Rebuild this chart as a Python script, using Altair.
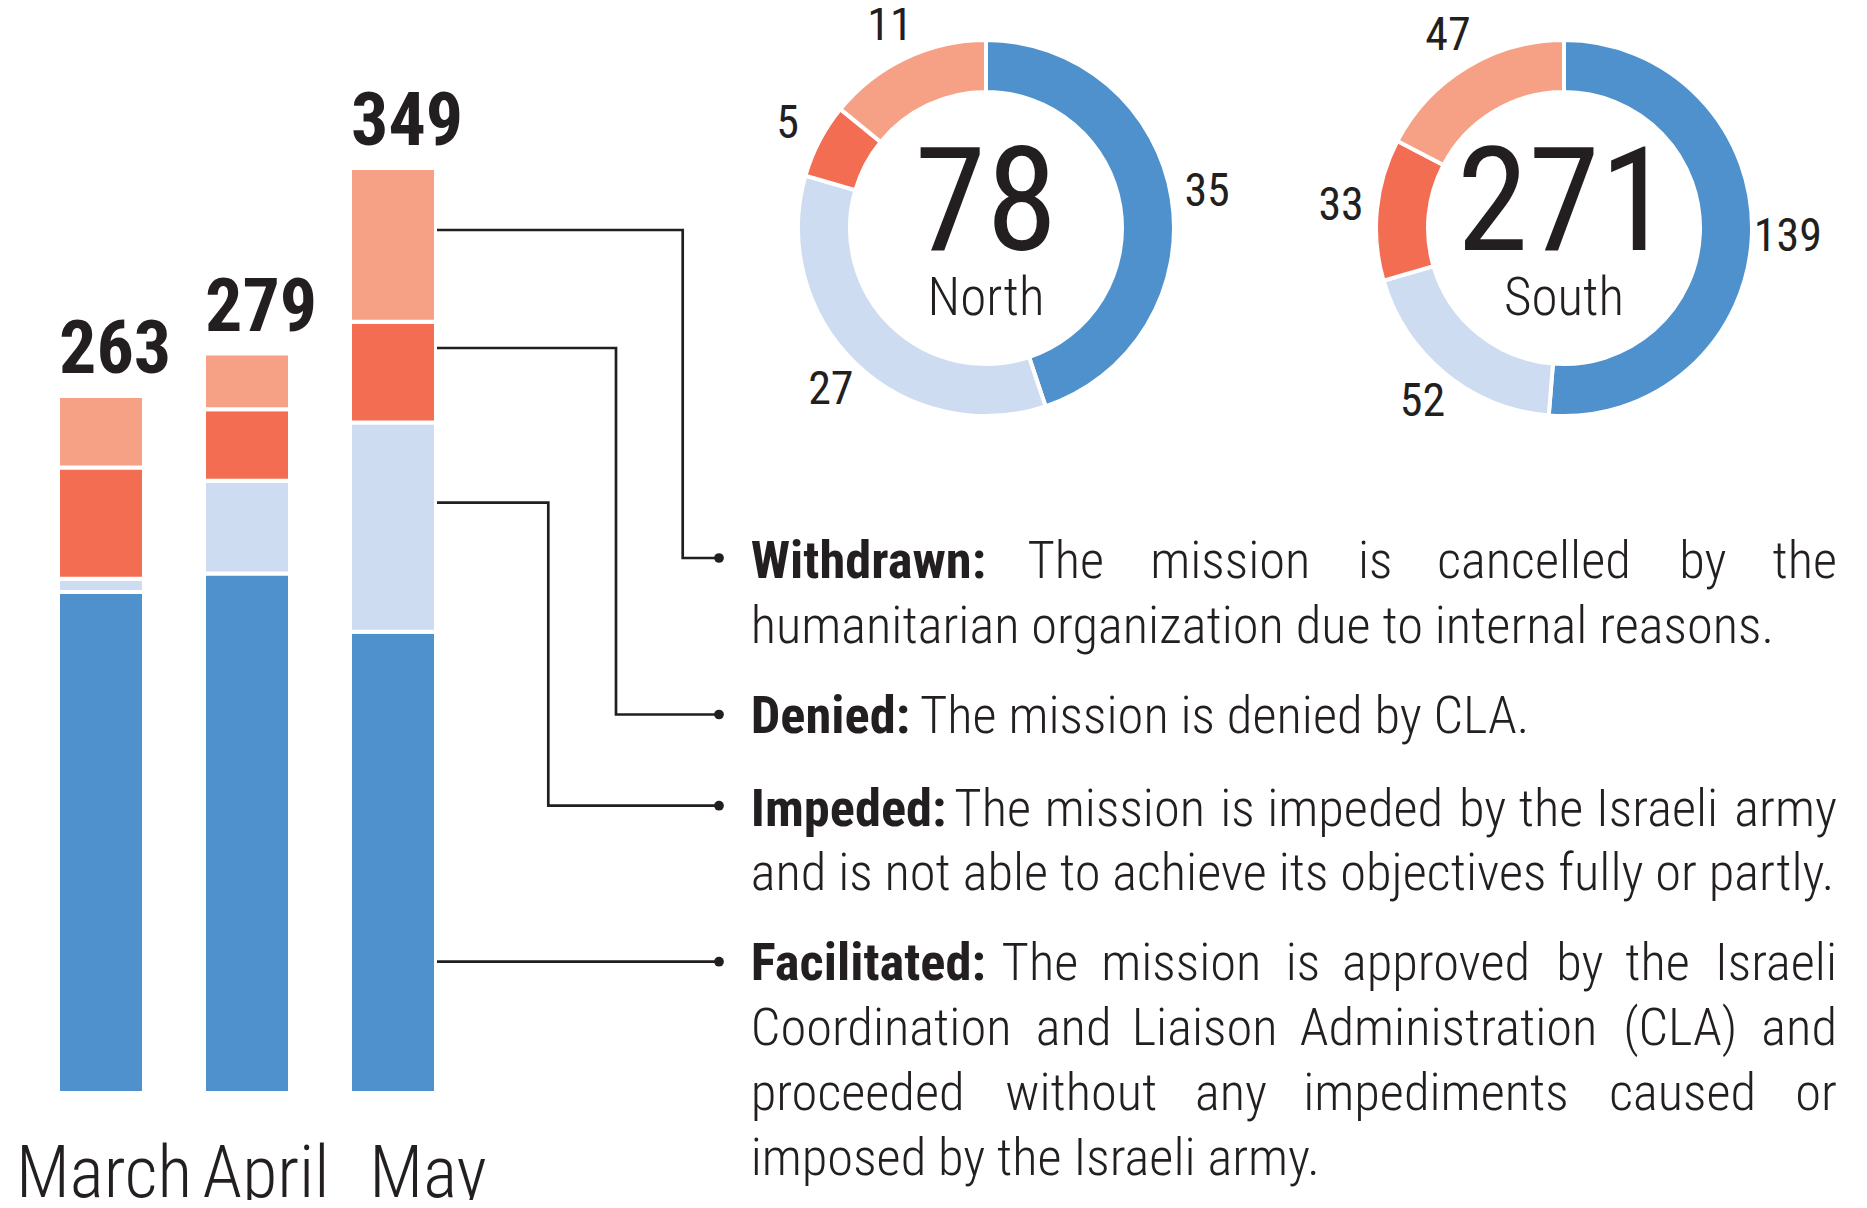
import altair as alt
import pandas as pd

# ---------------- data ----------------
months = ["March", "April", "May"]
statuses = ["Facilitated", "Impeded", "Denied", "Withdrawn"]
facilitated = [189, 196, 174]
impeded = [5, 35, 79]
denied = [42, 27, 38]
withdrawn = [27, 21, 58]

regions = ["North", "South"]
north = [35, 27, 5, 11]
south = [139, 52, 33, 47]

colors = ["#4F91CD", "#CEDCF1", "#F26D52", "#F6A186"]

labels = ["Withdrawn:", "Denied:", "Impeded:", "Facilitated:"]
withdrawn_line1 = ["The", "mission", "is", "cancelled", "by", "the"]
withdrawn_line2 = "humanitarian organization due to internal reasons."
denied_line1 = "The mission is denied by CLA."
impeded_line1 = ["The", "mission", "is", "impeded", "by", "the", "Israeli", "army"]
impeded_line2 = "and is not able to achieve its objectives fully or partly."
facilitated_line1 = ["The", "mission", "is", "approved", "by", "the", "Israeli"]
facilitated_line2 = ["Coordination", "and", "Liaison", "Administration", "(CLA)", "and"]
facilitated_line3 = ["proceeded", "without", "any", "impediments", "caused", "or"]
facilitated_line4 = "imposed by the Israeli army."

# ---------------- layout / style ----------------
FONT = "Roboto Condensed, Liberation Sans Narrow, Arial Narrow, DejaVu Sans Condensed, sans-serif"
INK = "#231F20"
W, H = 1851, 1192
TX = 742.7          # left edge of description text
RX = 1829           # right edge of justified text
FS = 52.5           # description font size

color_scale = alt.Scale(domain=statuses, range=colors)

# approximate advance widths (em) used only to justify the text lines
CW = {'a': .544, 'b': .561, 'c': .523, 'd': .564, 'e': .530, 'f': .347, 'g': .561, 'h': .551,
      'i': .243, 'j': .239, 'k': .507, 'l': .243, 'm': .876, 'n': .552, 'o': .570, 'p': .561,
      'q': .568, 'r': .338, 's': .516, 't': .327, 'u': .551, 'v': .484, 'w': .751, 'x': .496,
      'y': .473, 'z': .496, 'T': .610, 'I': .279, 'C': .652, 'L': .539, 'A': .653, '(': .342,
      ')': .348, '.': .263, ':': .242, ' ': .248}
COND = 0.887


def wwidth(word):
    return sum(CW.get(ch, 0.55) for ch in word) * COND * FS


def justify(words, x0, x1, lead=0.0):
    widths = [wwidth(w) for w in words]
    ngaps = len(words) if lead else len(words) - 1
    gap = (x1 - x0 - lead - sum(widths)) / ngaps
    pos = []
    x = x0 + lead + (gap if lead else 0)
    for w in widths:
        pos.append(x)
        x += w + gap
    return pos

# ---------------- bars ----------------
rows = []
for mi, m in enumerate(months):
    for si, (s, arr) in enumerate(zip(statuses, [facilitated, impeded, denied, withdrawn])):
        rows.append({"month": m, "status": s, "count": arr[mi], "idx": si})
bar_df = pd.DataFrame(rows)
max_total = int(bar_df.groupby("month")["count"].sum().max())

xs = alt.Scale(domain=months, range=[20, 458], paddingInner=0, paddingOuter=0)
ys = alt.Scale(domain=[0, max_total], range=[1085, 160])

bars = alt.Chart(bar_df).mark_bar(size=86, stroke="white", strokeWidth=4).encode(
    x=alt.X("month:N", scale=xs, axis=None),
    y=alt.Y("count:Q", scale=ys, axis=None, stack="zero"),
    color=alt.Color("status:N", scale=color_scale, legend=None),
    order=alt.Order("idx:Q"),
)

totals = alt.Chart(bar_df).transform_aggregate(
    total="sum(count)", groupby=["month"]
).mark_text(
    font=FONT, fontSize=74, fontWeight="bold", align="left", baseline="alphabetic",
    dx=-42, dy=-23, color=INK
).encode(
    x=alt.X("month:N", scale=xs, axis=None),
    y=alt.Y("total:Q", scale=ys, axis=None),
    text="total:Q",
)

month_df = pd.DataFrame({"month": months})
month_labels = alt.Chart(month_df).mark_text(
    font=FONT, fontSize=72, fontWeight=300, baseline="alphabetic", color=INK
).encode(
    x=alt.X("month:N", scale=alt.Scale(domain=months, range=[15, 501], paddingInner=0, paddingOuter=0), axis=None),
    y=alt.value(1189),
    text="month:N",
)

# ---------------- donuts ----------------
def donut(region, vals, cx, cy):
    df = pd.DataFrame({"status": statuses, "count": vals, "idx": list(range(len(vals)))})
    base = alt.Chart(df)
    arc = base.mark_arc(outerRadius=188, innerRadius=136, stroke="white", strokeWidth=4).encode(
        theta=alt.Theta("count:Q", stack=True),
        color=alt.Color("status:N", scale=color_scale, legend=None),
        order=alt.Order("idx:Q"),
        x=alt.value(cx), y=alt.value(cy),
    )
    lab = base.mark_text(radius=224, font=FONT, fontSize=46, color=INK, baseline="middle", align="center").encode(
        theta=alt.Theta("count:Q", stack=True),
        order=alt.Order("idx:Q"),
        text="count:Q",
        x=alt.value(cx), y=alt.value(cy),
    )
    tot = base.transform_aggregate(total="sum(count)").mark_text(
        font=FONT, fontSize=145, baseline="alphabetic", align="center", color=INK
    ).encode(text="total:Q", x=alt.value(cx), y=alt.value(cy + 22))
    name = alt.Chart(pd.DataFrame({"region": [region]})).mark_text(
        font=FONT, fontSize=53, fontWeight=300, baseline="alphabetic", align="center", color=INK
    ).encode(text="region:N", x=alt.value(cx), y=alt.value(cy + 87))
    return [arc, lab, tot, name]

north_layers = donut(regions[0], north, 978, 220)
south_layers = donut(regions[1], south, 1556, 220)

# ---------------- connectors ----------------
conn_paths = [
    [(429, 222), (674.7, 222), (674.7, 550), (711, 550)],
    [(429, 340), (608, 340), (608, 706.5), (711, 706.5)],
    [(429, 494.7), (540.3, 494.7), (540.3, 797.7), (711, 797.7)],
    [(429, 953.7), (711, 953.7)],
]
crow = []
for g, path in enumerate(conn_paths):
    for i, (px, py) in enumerate(path):
        crow.append({"g": g, "i": i, "px": px, "py": py})
conn_df = pd.DataFrame(crow)
connectors = alt.Chart(conn_df).mark_line(
    color=INK, strokeWidth=2.7, strokeJoin="miter", strokeCap="butt"
).encode(
    x=alt.X("px:Q", scale=None), y=alt.Y("py:Q", scale=None),
    detail="g:N", order="i:Q",
)
bullet_df = pd.DataFrame([{"px": p[-1][0], "py": p[-1][1]} for p in conn_paths])
bullets = alt.Chart(bullet_df).mark_circle(size=95, opacity=1, color=INK).encode(
    x=alt.X("px:Q", scale=None), y=alt.Y("py:Q", scale=None)
)

# ---------------- description text ----------------
BL = {"W1": 570.3, "W2": 635.3, "D1": 725.3, "I1": 818, "I2": 882,
      "F1": 972, "F2": 1037, "F3": 1102, "F4": 1167}
LEAD = {"Withdrawn:": 232.7, "Impeded:": 192.0, "Facilitated:": 230.0}

bold_df = pd.DataFrame({
    "t": labels,
    "px": [TX] * 4,
    "py": [BL["W1"], BL["D1"], BL["I1"], BL["F1"]],
})

left_rows = []
right_rows = []


def justified(words, key, lead=0.0):
    pos = justify(words, TX, RX, lead)
    for w, xx in zip(words[:-1], pos[:-1]):
        left_rows.append({"t": w, "px": xx, "py": BL[key]})
    right_rows.append({"t": words[-1], "px": RX, "py": BL[key]})


justified(withdrawn_line1, "W1", LEAD["Withdrawn:"])
justified(impeded_line1, "I1", LEAD["Impeded:"])
justified(facilitated_line1, "F1", LEAD["Facilitated:"])
justified(facilitated_line2, "F2")
justified(facilitated_line3, "F3")
left_rows += [
    {"t": withdrawn_line2, "px": TX, "py": BL["W2"]},
    {"t": denied_line1, "px": 912, "py": BL["D1"]},
    {"t": impeded_line2, "px": TX, "py": BL["I2"]},
    {"t": facilitated_line4, "px": TX, "py": BL["F4"]},
]


def text_layer(df, align, weight):
    return alt.Chart(pd.DataFrame(df)).mark_text(
        font=FONT, fontSize=FS, fontWeight=weight, align=align, baseline="alphabetic", color=INK
    ).encode(x=alt.X("px:Q", scale=None), y=alt.Y("py:Q", scale=None), text="t:N")


bold_text = text_layer(bold_df, "left", "bold")
left_text = text_layer(left_rows, "left", 300)
right_text = text_layer(right_rows, "right", 300)

chart = alt.layer(
    bars, totals, month_labels,
    *north_layers, *south_layers,
    connectors, bullets,
    bold_text, left_text, right_text,
).resolve_scale(
    x="independent", y="independent", theta="independent"
).properties(
    width=W, height=H, padding=0,
    autosize=alt.AutoSizeParams(type="none"),
    background="white",
).configure_view(strokeWidth=0)

chart.save("out.html", embed_options={"renderer": "svg", "actions": False})
